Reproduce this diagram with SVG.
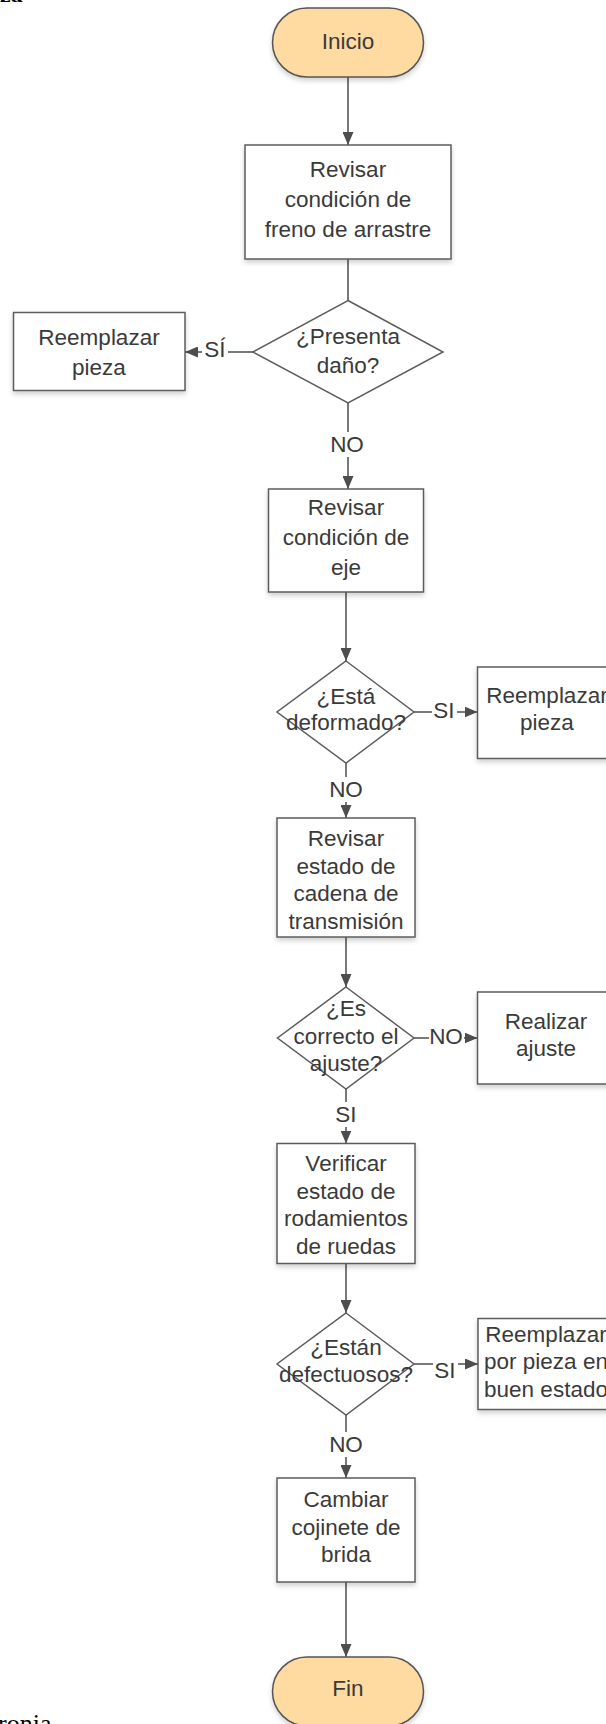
<svg xmlns="http://www.w3.org/2000/svg" width="606" height="1724" viewBox="0 0 606 1724">
  <defs>
    <style>
      .box { fill: #ffffff; stroke: #5c5c5c; stroke-width: 1.5; filter: url(#shadow); }
      .dec { fill: #ffffff; stroke: #5c5c5c; stroke-width: 1.5; }
      .term { fill: #ffdba1; stroke: #555555; stroke-width: 1.5; filter: url(#shadow); }
      .t { font-family: "Liberation Sans", Arial, sans-serif; font-size: 22.5px; fill: #3a3a3a; text-anchor: middle; }
      .edge { stroke: #4d4d4d; stroke-width: 1.5; fill: none; }
      .arrow { marker-end: url(#head); }
      .lblbg { fill: #ffffff; }
      .page { font-family: "Liberation Serif", "Times New Roman", serif; fill: #000000; }
    </style>
    <filter id="shadow" x="-10%" y="-10%" width="120%" height="130%">
      <feDropShadow dx="0" dy="3" stdDeviation="2.5" flood-color="#000000" flood-opacity="0.18"/>
    </filter>
    <marker id="head" markerUnits="userSpaceOnUse" markerWidth="13" markerHeight="11" refX="13" refY="5.5" orient="auto">
      <path d="M0,0 L13,5.5 L0,11 Z" fill="#4d4d4d"/>
    </marker>
  </defs>

  <!-- fragments of the surrounding page text -->
  <text class="page" x="0" y="2" font-size="24" font-weight="bold">za</text>
  <text class="page" x="-2" y="1732" font-size="26">ronia</text>

  <!-- connectors -->
  <g id="connectors">
    <path class="edge arrow" d="M348,77 V145"/>
    <path class="edge" d="M348,259 V300.5"/>
    <path class="edge arrow" d="M253,352 H185"/>
    <path class="edge arrow" d="M348,403 V489"/>
    <path class="edge arrow" d="M346,592 V661"/>
    <path class="edge arrow" d="M414,712 H477.5"/>
    <path class="edge arrow" d="M346,763 V818"/>
    <path class="edge arrow" d="M346,937 V987"/>
    <path class="edge arrow" d="M414,1038 H477.5"/>
    <path class="edge arrow" d="M346,1089 V1143.5"/>
    <path class="edge arrow" d="M346,1263.5 V1313"/>
    <path class="edge arrow" d="M414,1364 H478"/>
    <path class="edge arrow" d="M346,1415 V1478"/>
    <path class="edge arrow" d="M346,1582 V1657"/>

    <!-- branch labels -->
    <g id="lbl-si-1">
      <rect class="lblbg" x="202" y="340" width="26" height="22"/>
      <text class="t" x="215" y="357">SÍ</text>
    </g>
    <g id="lbl-no-1">
      <rect class="lblbg" x="330" y="432" width="35" height="25"/>
      <text class="t" x="347" y="452">NO</text>
    </g>
    <g id="lbl-si-2">
      <rect class="lblbg" x="432" y="700" width="25" height="22"/>
      <text class="t" x="444" y="717.5">SI</text>
    </g>
    <g id="lbl-no-2">
      <rect class="lblbg" x="329" y="777" width="35" height="25"/>
      <text class="t" x="346" y="797">NO</text>
    </g>
    <g id="lbl-no-3">
      <rect class="lblbg" x="429" y="1026" width="35" height="22"/>
      <text class="t" x="446" y="1043.5">NO</text>
    </g>
    <g id="lbl-si-3">
      <rect class="lblbg" x="334" y="1102" width="25" height="25"/>
      <text class="t" x="346" y="1122">SI</text>
    </g>
    <g id="lbl-si-4">
      <rect class="lblbg" x="433" y="1352" width="25" height="22"/>
      <text class="t" x="445" y="1377.5">SI</text>
    </g>
    <g id="lbl-no-4">
      <rect class="lblbg" x="329" y="1432" width="35" height="25"/>
      <text class="t" x="346" y="1452">NO</text>
    </g>
  </g>

  <!-- nodes -->
  <g id="inicio">
    <rect class="term" x="272.5" y="8" width="151" height="69" rx="34.5"/>
    <text class="t" x="348" y="48.5">Inicio</text>
  </g>

  <g id="revisar-freno">
    <rect class="box" x="245" y="145" width="206" height="114"/>
    <text class="t" x="348" y="177">Revisar</text>
    <text class="t" x="348" y="207">condición de</text>
    <text class="t" x="348" y="237">freno de arrastre</text>
  </g>

  <g id="presenta-dano">
    <polygon class="dec" points="348,300.5 443,352 348,403 253,352"/>
    <text class="t" x="348" y="343.5">¿Presenta</text>
    <text class="t" x="348" y="373">daño?</text>
  </g>

  <g id="reemplazar-1">
    <rect class="box" x="13.5" y="312.5" width="171.5" height="78"/>
    <text class="t" x="99" y="345">Reemplazar</text>
    <text class="t" x="99" y="375">pieza</text>
  </g>

  <g id="revisar-eje">
    <rect class="box" x="268.5" y="489" width="155" height="103"/>
    <text class="t" x="346" y="515">Revisar</text>
    <text class="t" x="346" y="545">condición de</text>
    <text class="t" x="346" y="575">eje</text>
  </g>

  <g id="esta-deformado">
    <polygon class="dec" points="346,661 414,712 346,763 277,712"/>
    <text class="t" x="346" y="704">¿Está</text>
    <text class="t" x="346" y="730">deformado?</text>
  </g>

  <g id="reemplazar-2">
    <rect class="box" x="477.5" y="667" width="139" height="91.5"/>
    <text class="t" x="547" y="703">Reemplazar</text>
    <text class="t" x="547" y="730">pieza</text>
  </g>

  <g id="revisar-cadena">
    <rect class="box" x="277" y="818" width="138" height="119"/>
    <text class="t" x="346" y="846">Revisar</text>
    <text class="t" x="346" y="873.5">estado de</text>
    <text class="t" x="346" y="901">cadena de</text>
    <text class="t" x="346" y="928.5">transmisión</text>
  </g>

  <g id="es-correcto">
    <polygon class="dec" points="346,987 414,1038 346,1089 277.5,1038"/>
    <text class="t" x="346" y="1016">¿Es</text>
    <text class="t" x="346" y="1043.5">correcto el</text>
    <text class="t" x="346" y="1070.5">ajuste?</text>
  </g>

  <g id="realizar-ajuste">
    <rect class="box" x="477.5" y="992" width="139" height="92"/>
    <text class="t" x="546" y="1028.5">Realizar</text>
    <text class="t" x="546" y="1056">ajuste</text>
  </g>

  <g id="verificar-rodamientos">
    <rect class="box" x="277" y="1143.5" width="138" height="120"/>
    <text class="t" x="346" y="1171">Verificar</text>
    <text class="t" x="346" y="1198.5">estado de</text>
    <text class="t" x="346" y="1226">rodamientos</text>
    <text class="t" x="346" y="1253.5">de ruedas</text>
  </g>

  <g id="estan-defectuosos">
    <polygon class="dec" points="346,1313 414,1364 346,1415 277,1364"/>
    <text class="t" x="346" y="1355">¿Están</text>
    <text class="t" x="346" y="1382">defectuosos?</text>
  </g>

  <g id="reemplazar-3">
    <rect class="box" x="478" y="1318.5" width="138" height="91"/>
    <text class="t" x="546" y="1342">Reemplazar</text>
    <text class="t" x="546" y="1368.5">por pieza en</text>
    <text class="t" x="546" y="1396.5">buen estado</text>
  </g>

  <g id="cambiar-cojinete">
    <rect class="box" x="277" y="1478" width="138" height="104"/>
    <text class="t" x="346" y="1507">Cambiar</text>
    <text class="t" x="346" y="1535">cojinete de</text>
    <text class="t" x="346" y="1562">brida</text>
  </g>

  <g id="fin">
    <rect class="term" x="272.5" y="1657" width="151" height="69" rx="34.5"/>
    <text class="t" x="348" y="1696">Fin</text>
  </g>
</svg>
